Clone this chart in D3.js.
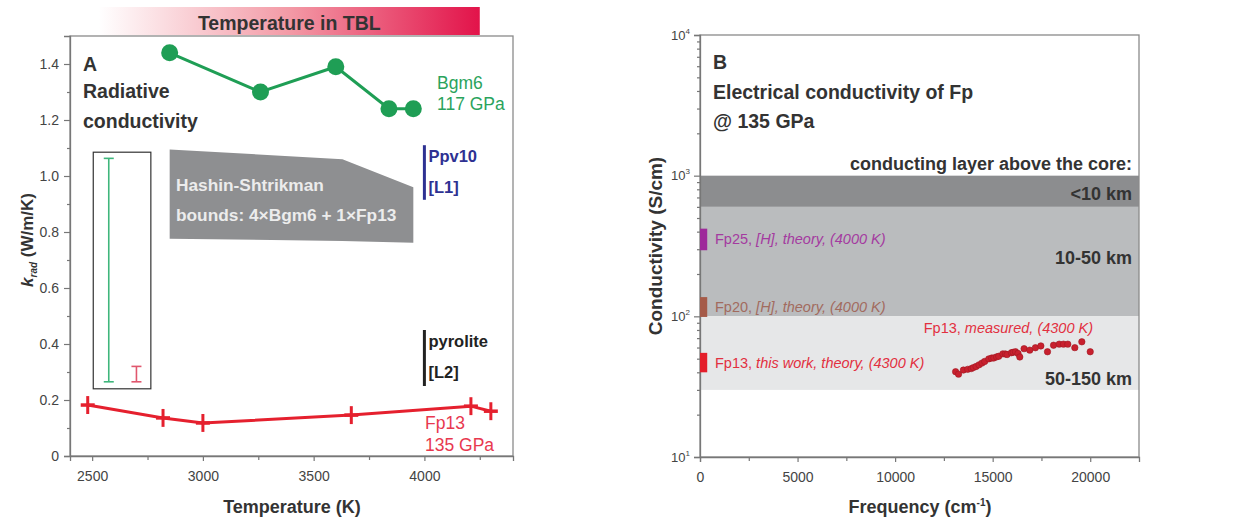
<!DOCTYPE html>
<html><head><meta charset="utf-8">
<script src="https://cdn.jsdelivr.net/npm/d3@7"></script>
<style>
body{margin:0;background:#fff;}
svg{display:block;font-family:"Liberation Sans",Arial,Helvetica,sans-serif;}
</style></head><body>
<svg id="c" width="1243" height="524"></svg>
<script>
// ---------- Panel A data ----------
const bgm6Temp = [2850, 3260, 3600, 3840, 3950];
const bgm6Krad = [1.44, 1.30, 1.39, 1.24, 1.24];
const fp13Temp = [2480, 2820, 3000, 3670, 4210, 4300];
const fp13Krad = [0.182, 0.136, 0.118, 0.146, 0.178, 0.160];
const fp13Err  = [0.032, 0.032, 0.032, 0.032, 0.032, 0.032];
const hsTemp  = [2850, 3630, 3950];
const hsUpper = [1.095, 1.060, 0.960];
const hsLower = [0.776, 0.768, 0.762];
const tblRange = [2530, 4250];
const tempTicks = [2500, 3000, 3500, 4000];
const tempMinorTicks = [2750, 3250, 3750, 4250];
const kradTicks = [0, 0.2, 0.4, 0.6, 0.8, 1.0, 1.2, 1.4];
const kradMinorTicks = [0.1, 0.3, 0.5, 0.7, 0.9, 1.1, 1.3];
const errBoxTemp = [2505, 2765];
const errBoxKrad = [0.24, 1.085];
const errBarTemp = [2575, 2700];
const errBarLow  = [0.265, 0.265];
const errBarHigh = [1.063, 0.320];
const litNames = ["Ppv10", "pyrolite"];
const litRefs  = ["[L1]", "[L2]"];
const litTemp  = [4000, 4000];
const litLow   = [0.915, 0.250];
const litHigh  = [1.110, 0.450];

// ---------- Panel B data ----------
const layerLabels = ["<10 km", "10-50 km", "50-150 km"];
const layerLow  = [600, 100, 30];
const layerHigh = [1000, 600, 100];
const theoryNames = ["Fp25,", "Fp20,", "Fp13,"];
const theoryNotes = ["[H], theory, (4000 K)", "[H], theory, (4000 K)", "this work, theory, (4300 K)"];
const theoryLow  = [295, 99, 40];
const theoryHigh = [420, 137, 55];
const theoryFreq = [0, 370];
const freqTicks = [0, 5000, 10000, 15000, 20000];
const freqMinorTicks = [2500, 7500, 12500, 17500];
const condTicks = [10, 100, 1000, 10000];
const measFreq = [13100, 13250, 13500, 13720, 13900, 14010, 14150, 14300, 14450, 14590, 14800, 14950, 15060, 15200, 15310, 15520, 15650, 15740, 15960, 16050, 16170, 16300, 16390, 16610, 16900, 17190, 17470, 17810, 18120, 18410, 18630, 18850, 19210, 19570, 20000];
const measCond = [40.4, 38.8, 41.5, 42.0, 42.5, 43.2, 44.0, 45.2, 46.5, 47.8, 49.8, 50.5, 50.6, 51.5, 52.0, 54.1, 54.0, 53.5, 55.1, 55.5, 56.0, 54.5, 51.4, 58.9, 57.5, 59.8, 61.6, 56.0, 62.3, 63.4, 63.4, 63.4, 59.9, 65.9, 56.0];

const svg = d3.select("#c");
const dark = "#333";
const axisCol = "#777";

// gradient def
const defs = svg.append("defs");
const grad = defs.append("linearGradient").attr("id","tbl").attr("x1","0").attr("x2","1").attr("y1","0").attr("y2","0");
grad.append("stop").attr("offset","0").attr("stop-color","#ffffff");
grad.append("stop").attr("offset","0.5").attr("stop-color","#f39aa6");
grad.append("stop").attr("offset","1").attr("stop-color","#e2134a");

// ================= Panel A =================
const xA = d3.scaleLinear().domain([2400, 4400]).range([70, 513]);
const yA = d3.scaleLinear().domain([0, 1.5]).range([456, 36]);

svg.append("rect").attr("x", xA(tblRange[0])).attr("y", 7)
  .attr("width", xA(tblRange[1]) - xA(tblRange[0])).attr("height", 28)
  .attr("fill", "url(#tbl)");
svg.append("text").attr("x", xA((tblRange[0]+tblRange[1])/2)).attr("y", 30)
  .attr("text-anchor","middle").attr("font-size",19.5).attr("font-weight","bold").attr("fill",dark)
  .text("Temperature in TBL");

svg.append("rect").attr("x",70).attr("y",36).attr("width",443).attr("height",420)
  .attr("fill","none").attr("stroke","#8a8a8a").attr("stroke-width",1.3);

function styleAxis(g){
  g.selectAll(".domain").attr("stroke",axisCol).attr("stroke-width",1.3);
  g.selectAll(".tick line").attr("stroke",axisCol).attr("stroke-width",1.2);
  g.selectAll(".tick text").attr("fill","#444").attr("font-family",'"Liberation Sans",Arial,sans-serif');
}

const gxA = svg.append("g").attr("transform","translate(0,456)")
  .call(d3.axisBottom(xA).tickValues(tempTicks).tickSize(5).tickPadding(10).tickFormat(d3.format("d")));
gxA.selectAll("text").attr("font-size",14);
styleAxis(gxA);
const gxAm = svg.append("g").attr("transform","translate(0,456)")
  .call(d3.axisBottom(xA).tickValues(tempMinorTicks).tickSize(4).tickFormat(""));
gxAm.select(".domain").remove(); styleAxis(gxAm);

const gyA = svg.append("g").attr("transform","translate(70,0)")
  .call(d3.axisLeft(yA).tickValues(kradTicks).tickSize(6).tickPadding(5).tickFormat(d => d === 0 ? "0" : d3.format(".1f")(d)));
gyA.selectAll("text").attr("font-size",14);
styleAxis(gyA);
const gyAm = svg.append("g").attr("transform","translate(70,0)")
  .call(d3.axisLeft(yA).tickValues(kradMinorTicks).tickSize(3).tickFormat(""));
gyAm.select(".domain").remove(); styleAxis(gyAm);

// axis titles A
svg.append("text").attr("x",292).attr("y",513).attr("text-anchor","middle")
  .attr("font-size",18).attr("font-weight","bold").attr("fill",dark).text("Temperature (K)");
const yl = svg.append("text").attr("transform","translate(33,240) rotate(-90)")
  .attr("text-anchor","middle").attr("font-size",17).attr("font-weight","bold").attr("fill",dark);
yl.append("tspan").attr("font-style","italic").text("k");
yl.append("tspan").attr("font-style","italic").attr("font-size",10).attr("dy",4).text("rad");
yl.append("tspan").attr("dy",-4).text(" (W/m/K)");

// Hashin-Shtrikman polygon
const hsPts = hsTemp.map((t,i)=>[xA(t), yA(hsUpper[i])])
  .concat(hsTemp.map((t,i)=>[xA(t), yA(hsLower[i])]).reverse());
svg.append("path").attr("d", d3.line()(hsPts) + "Z").attr("fill","#8e8f91");
svg.append("text").attr("x",176).attr("y",191).attr("font-size",17.3).attr("font-weight","bold")
  .attr("fill","#ececec").text("Hashin-Shtrikman");
svg.append("text").attr("x",176).attr("y",221).attr("font-size",17.3).attr("font-weight","bold")
  .attr("fill","#ececec").text("bounds: 4×Bgm6 + 1×Fp13");

// title A
svg.append("text").attr("x",83).attr("y",71).attr("font-size",19.5).attr("font-weight","bold").attr("fill",dark).text("A");
svg.append("text").attr("x",83).attr("y",98).attr("font-size",19.5).attr("font-weight","bold").attr("fill",dark).text("Radiative");
svg.append("text").attr("x",83).attr("y",128).attr("font-size",19.5).attr("font-weight","bold").attr("fill",dark).text("conductivity");

// error scale box
svg.append("rect").attr("x",xA(errBoxTemp[0])).attr("y",yA(errBoxKrad[1]))
  .attr("width",xA(errBoxTemp[1])-xA(errBoxTemp[0])).attr("height",yA(errBoxKrad[0])-yA(errBoxKrad[1]))
  .attr("fill","none").attr("stroke","#333").attr("stroke-width",1.2);
const ebCols = ["#3fb67c","#e0576e"];
errBarTemp.forEach((t,i)=>{
  const x = xA(t), y0 = yA(errBarLow[i]), y1 = yA(errBarHigh[i]);
  const g = svg.append("g").attr("stroke",ebCols[i]).attr("stroke-width",1.6);
  g.append("line").attr("x1",x).attr("x2",x).attr("y1",y0).attr("y2",y1);
  g.append("line").attr("x1",x-5).attr("x2",x+5).attr("y1",y0).attr("y2",y0);
  g.append("line").attr("x1",x-5).attr("x2",x+5).attr("y1",y1).attr("y2",y1);
});

// literature bars
const litCols = ["#2e3192","#222222"];
litNames.forEach((n,i)=>{
  const x = xA(litTemp[i]);
  svg.append("line").attr("x1",x).attr("x2",x).attr("y1",yA(litHigh[i])).attr("y2",yA(litLow[i]))
    .attr("stroke",litCols[i]).attr("stroke-width",3);
  const ty = yA(litHigh[i]);
  svg.append("text").attr("x",x+4).attr("y",ty+17).attr("font-size",16.5).attr("font-weight","bold").attr("fill",litCols[i]).text(n);
  svg.append("text").attr("x",x+4).attr("y",ty+48).attr("font-size",16.5).attr("font-weight","bold").attr("fill",litCols[i]).text(litRefs[i]);
});

// Bgm6 series
const green = "#1f9e55";
svg.append("path").datum(bgm6Temp.map((t,i)=>[xA(t), yA(bgm6Krad[i])]))
  .attr("d", d3.line()).attr("fill","none").attr("stroke",green).attr("stroke-width",3);
svg.selectAll(".bgm").data(bgm6Temp).enter().append("circle")
  .attr("cx",(d)=>xA(d)).attr("cy",(d,i)=>yA(bgm6Krad[i])).attr("r",8.5).attr("fill",green);
svg.append("text").attr("x",437).attr("y",89).attr("font-size",17.5).attr("fill","#2aa35c").text("Bgm6");
svg.append("text").attr("x",437).attr("y",110).attr("font-size",17.5).attr("fill","#2aa35c").text("117 GPa");

// Fp13 series
const red = "#e5202e";
svg.append("path").datum(fp13Temp.map((t,i)=>[xA(t), yA(fp13Krad[i])]))
  .attr("d", d3.line()).attr("fill","none").attr("stroke",red).attr("stroke-width",3);
fp13Temp.forEach((t,i)=>{
  const x = xA(t), y = yA(fp13Krad[i]);
  svg.append("line").attr("x1",x).attr("x2",x).attr("y1",yA(fp13Krad[i]-fp13Err[i])).attr("y2",yA(fp13Krad[i]+fp13Err[i]))
    .attr("stroke",red).attr("stroke-width",3);
  svg.append("line").attr("x1",x-7).attr("x2",x+7).attr("y1",y).attr("y2",y).attr("stroke",red).attr("stroke-width",3.5);
});
svg.append("text").attr("x",425).attr("y",429).attr("font-size",17.5).attr("fill","#e8384f").text("Fp13");
svg.append("text").attr("x",425).attr("y",451).attr("font-size",17.5).attr("fill","#e8384f").text("135 GPa");

// ================= Panel B =================
const xB = d3.scaleLinear().domain([0, 22500]).range([700, 1139]);
const yB = d3.scaleLog().domain([10, 10000]).range([457, 35]);

const layerCols = ["#8c8d8f","#babcbe","#e6e7e8"];
layerLabels.forEach((l,i)=>{
  svg.append("rect").attr("x",xB(0)).attr("y",yB(layerHigh[i])).attr("width",xB(22500)-xB(0))
    .attr("height",yB(layerLow[i])-yB(layerHigh[i])).attr("fill",layerCols[i]);
});
svg.append("rect").attr("x",700).attr("y",35).attr("width",439).attr("height",422)
  .attr("fill","none").attr("stroke","#8a8a8a").attr("stroke-width",1.3);

const gxB = svg.append("g").attr("transform","translate(0,457)")
  .call(d3.axisBottom(xB).tickValues(freqTicks).tickSize(5).tickPadding(10).tickFormat(d3.format("d")));
gxB.selectAll("text").attr("font-size",14);
styleAxis(gxB);
const gxBm = svg.append("g").attr("transform","translate(0,457)")
  .call(d3.axisBottom(xB).tickValues(freqMinorTicks).tickSize(4).tickFormat(""));
gxBm.select(".domain").remove(); styleAxis(gxBm);

const gyB = svg.append("g").attr("transform","translate(700,0)")
  .call(d3.axisLeft(yB).tickValues(condTicks).tickSize(6).tickPadding(4).tickFormat(() => "10"));
gyB.selectAll("text").attr("font-size",13).each(function(d){
  d3.select(this).append("tspan").attr("font-size",8).attr("dy",-6).text(Math.round(Math.log10(d)));
});
styleAxis(gyB);
const logMinor = [];
[10,100,1000].forEach(dec => { for (let k=2;k<=9;k++) logMinor.push(dec*k); });
const gyBm = svg.append("g").attr("transform","translate(700,0)")
  .call(d3.axisLeft(yB).tickValues(logMinor).tickSize(3).tickFormat(""));
gyBm.select(".domain").remove(); styleAxis(gyBm);

svg.append("text").attr("x",920).attr("y",513).attr("text-anchor","middle")
  .attr("font-size",18).attr("font-weight","bold").attr("fill",dark)
  .call(t => { t.append("tspan").text("Frequency (cm");
               t.append("tspan").attr("font-size",10).attr("dy",-7).text("-1");
               t.append("tspan").attr("dy",7).text(")"); });
svg.append("text").attr("transform","translate(662,246) rotate(-90)").attr("text-anchor","middle")
  .attr("font-size",19).attr("font-weight","bold").attr("fill",dark).text("Conductivity (S/cm)");

// titles B
svg.append("text").attr("x",713).attr("y",69).attr("font-size",19.5).attr("font-weight","bold").attr("fill",dark).text("B");
svg.append("text").attr("x",713).attr("y",99).attr("font-size",19.5).attr("font-weight","bold").attr("fill",dark).text("Electrical conductivity of Fp");
svg.append("text").attr("x",713).attr("y",128).attr("font-size",19.5).attr("font-weight","bold").attr("fill",dark).text("@ 135 GPa");
svg.append("text").attr("x",1132).attr("y",170).attr("text-anchor","end").attr("font-size",18).attr("font-weight","bold").attr("fill",dark).text("conducting layer above the core:");
const layerLabelY = [200, 264, 385];
layerLabels.forEach((l,i)=>{
  svg.append("text").attr("x",1132).attr("y",layerLabelY[i]).attr("text-anchor","end")
    .attr("font-size",18).attr("font-weight","bold").attr("fill",dark).text(l);
});

// theory bars
const thBarCols = ["#9e2a9a","#a55a48","#e41e2a"];
const thTextCols = ["#a43aa0","#a26b5e","#e2303f"];
theoryNames.forEach((n,i)=>{
  const y0 = yB(theoryHigh[i]), y1 = yB(theoryLow[i]);
  svg.append("rect").attr("x",xB(theoryFreq[0])).attr("y",y0).attr("width",xB(theoryFreq[1])-xB(theoryFreq[0]))
    .attr("height",y1-y0).attr("fill",thBarCols[i]);
  const t = svg.append("text").attr("x",715).attr("y",(y0+y1)/2+5).attr("font-size",14.5).attr("fill",thTextCols[i]);
  t.append("tspan").text(n + " ");
  t.append("tspan").attr("font-style","italic").text(theoryNotes[i]);
});

// measured
const mt = svg.append("text").attr("x",1093).attr("y",333).attr("text-anchor","end").attr("font-size",14.5).attr("fill","#e2303f");
mt.append("tspan").text("Fp13, ");
mt.append("tspan").attr("font-style","italic").text("measured, (4300 K)");
svg.selectAll(".meas").data(measFreq).enter().append("circle")
  .attr("cx",d=>xB(d)).attr("cy",(d,i)=>yB(measCond[i])).attr("r",3.2)
  .attr("fill","#c8202e").attr("stroke","#a01822").attr("stroke-width",0.6);
</script>
</body></html>
